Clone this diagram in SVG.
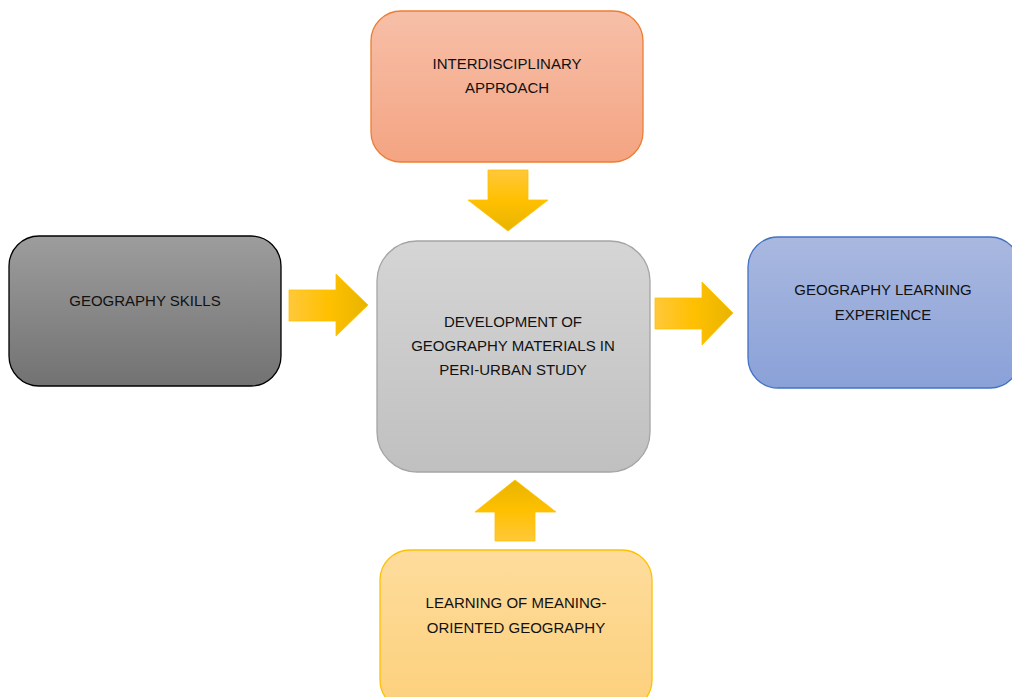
<svg xmlns="http://www.w3.org/2000/svg" width="1012" height="697" viewBox="0 0 1012 697">
<defs>
<linearGradient id="gTop" x1="0" y1="0" x2="0" y2="1"><stop offset="0" stop-color="#f7bfa8"/><stop offset="1" stop-color="#f4a482"/></linearGradient>
<linearGradient id="gLeft" x1="0" y1="0" x2="0" y2="1"><stop offset="0" stop-color="#9d9d9d"/><stop offset="1" stop-color="#727272"/></linearGradient>
<linearGradient id="gCenter" x1="0" y1="0" x2="0" y2="1"><stop offset="0" stop-color="#d5d5d5"/><stop offset="1" stop-color="#c0c0c0"/></linearGradient>
<linearGradient id="gRight" x1="0" y1="0" x2="0" y2="1"><stop offset="0" stop-color="#a9b8df"/><stop offset="1" stop-color="#8aa1d8"/></linearGradient>
<linearGradient id="gBottom" x1="0" y1="0" x2="0" y2="1"><stop offset="0" stop-color="#fedc9c"/><stop offset="1" stop-color="#fcd07c"/></linearGradient>
<linearGradient id="aDown" x1="0" y1="0" x2="0" y2="1"><stop offset="0" stop-color="#ffc83a"/><stop offset="0.5" stop-color="#ffc000"/><stop offset="1" stop-color="#e8b400"/></linearGradient>
<linearGradient id="aUp" x1="0" y1="1" x2="0" y2="0"><stop offset="0" stop-color="#ffc83a"/><stop offset="0.5" stop-color="#ffc000"/><stop offset="1" stop-color="#e8b400"/></linearGradient>
<linearGradient id="aRight" x1="0" y1="0" x2="1" y2="0"><stop offset="0" stop-color="#ffc83a"/><stop offset="0.5" stop-color="#ffc000"/><stop offset="1" stop-color="#e8b400"/></linearGradient>
</defs>
<style>
.box{stroke-width:1.3}
.lbl{font-family:"Liberation Sans",Arial,sans-serif;font-size:15px;fill:#111;text-anchor:middle}
.arr{stroke:#ffc000;stroke-width:0.8}
</style>
<g id="connectors">
<polygon class="arr" fill="url(#aDown)" points="488,170 528,170 528,200 548,200 508,231 468,200 488,200"/>
<polygon class="arr" fill="url(#aRight)" points="289,290 336,290 336,274 368,305 336,336 336,321 289,321"/>
<polygon class="arr" fill="url(#aRight)" points="655,298 702,298 702,282 733,313 702,345 702,329 655,329"/>
<polygon class="arr" fill="url(#aUp)" points="495,541 535,541 535,512 556,512 515,480 475,512 495,512"/>
</g>
<g id="node-top">
<rect class="box" x="371" y="11" width="272" height="151" rx="30" fill="url(#gTop)" stroke="#ed7d31"/>
<text class="lbl" x="507" y="69">INTERDISCIPLINARY</text>
<text class="lbl" x="507" y="93">APPROACH</text>
</g>
<g id="node-left">
<rect class="box" x="9" y="236" width="272" height="150" rx="30" fill="url(#gLeft)" stroke="#000"/>
<text class="lbl" x="145" y="306">GEOGRAPHY SKILLS</text>
</g>
<g id="node-center">
<rect class="box" x="377" y="241" width="273" height="231" rx="40" fill="url(#gCenter)" stroke="#a5a5a5"/>
<text class="lbl" x="513" y="327">DEVELOPMENT OF</text>
<text class="lbl" x="513" y="351">GEOGRAPHY MATERIALS IN</text>
<text class="lbl" x="513" y="375">PERI-URBAN STUDY</text>
</g>
<g id="node-right">
<rect class="box" x="748" y="237" width="272" height="151" rx="30" fill="url(#gRight)" stroke="#4472c4"/>
<text class="lbl" x="883" y="295">GEOGRAPHY LEARNING</text>
<text class="lbl" x="883" y="320">EXPERIENCE</text>
</g>
<g id="node-bottom">
<rect class="box" x="380" y="550" width="272" height="160" rx="30" fill="url(#gBottom)" stroke="#ffc000"/>
<text class="lbl" x="516" y="608">LEARNING OF MEANING-</text>
<text class="lbl" x="516" y="633">ORIENTED GEOGRAPHY</text>
</g>
</svg>
